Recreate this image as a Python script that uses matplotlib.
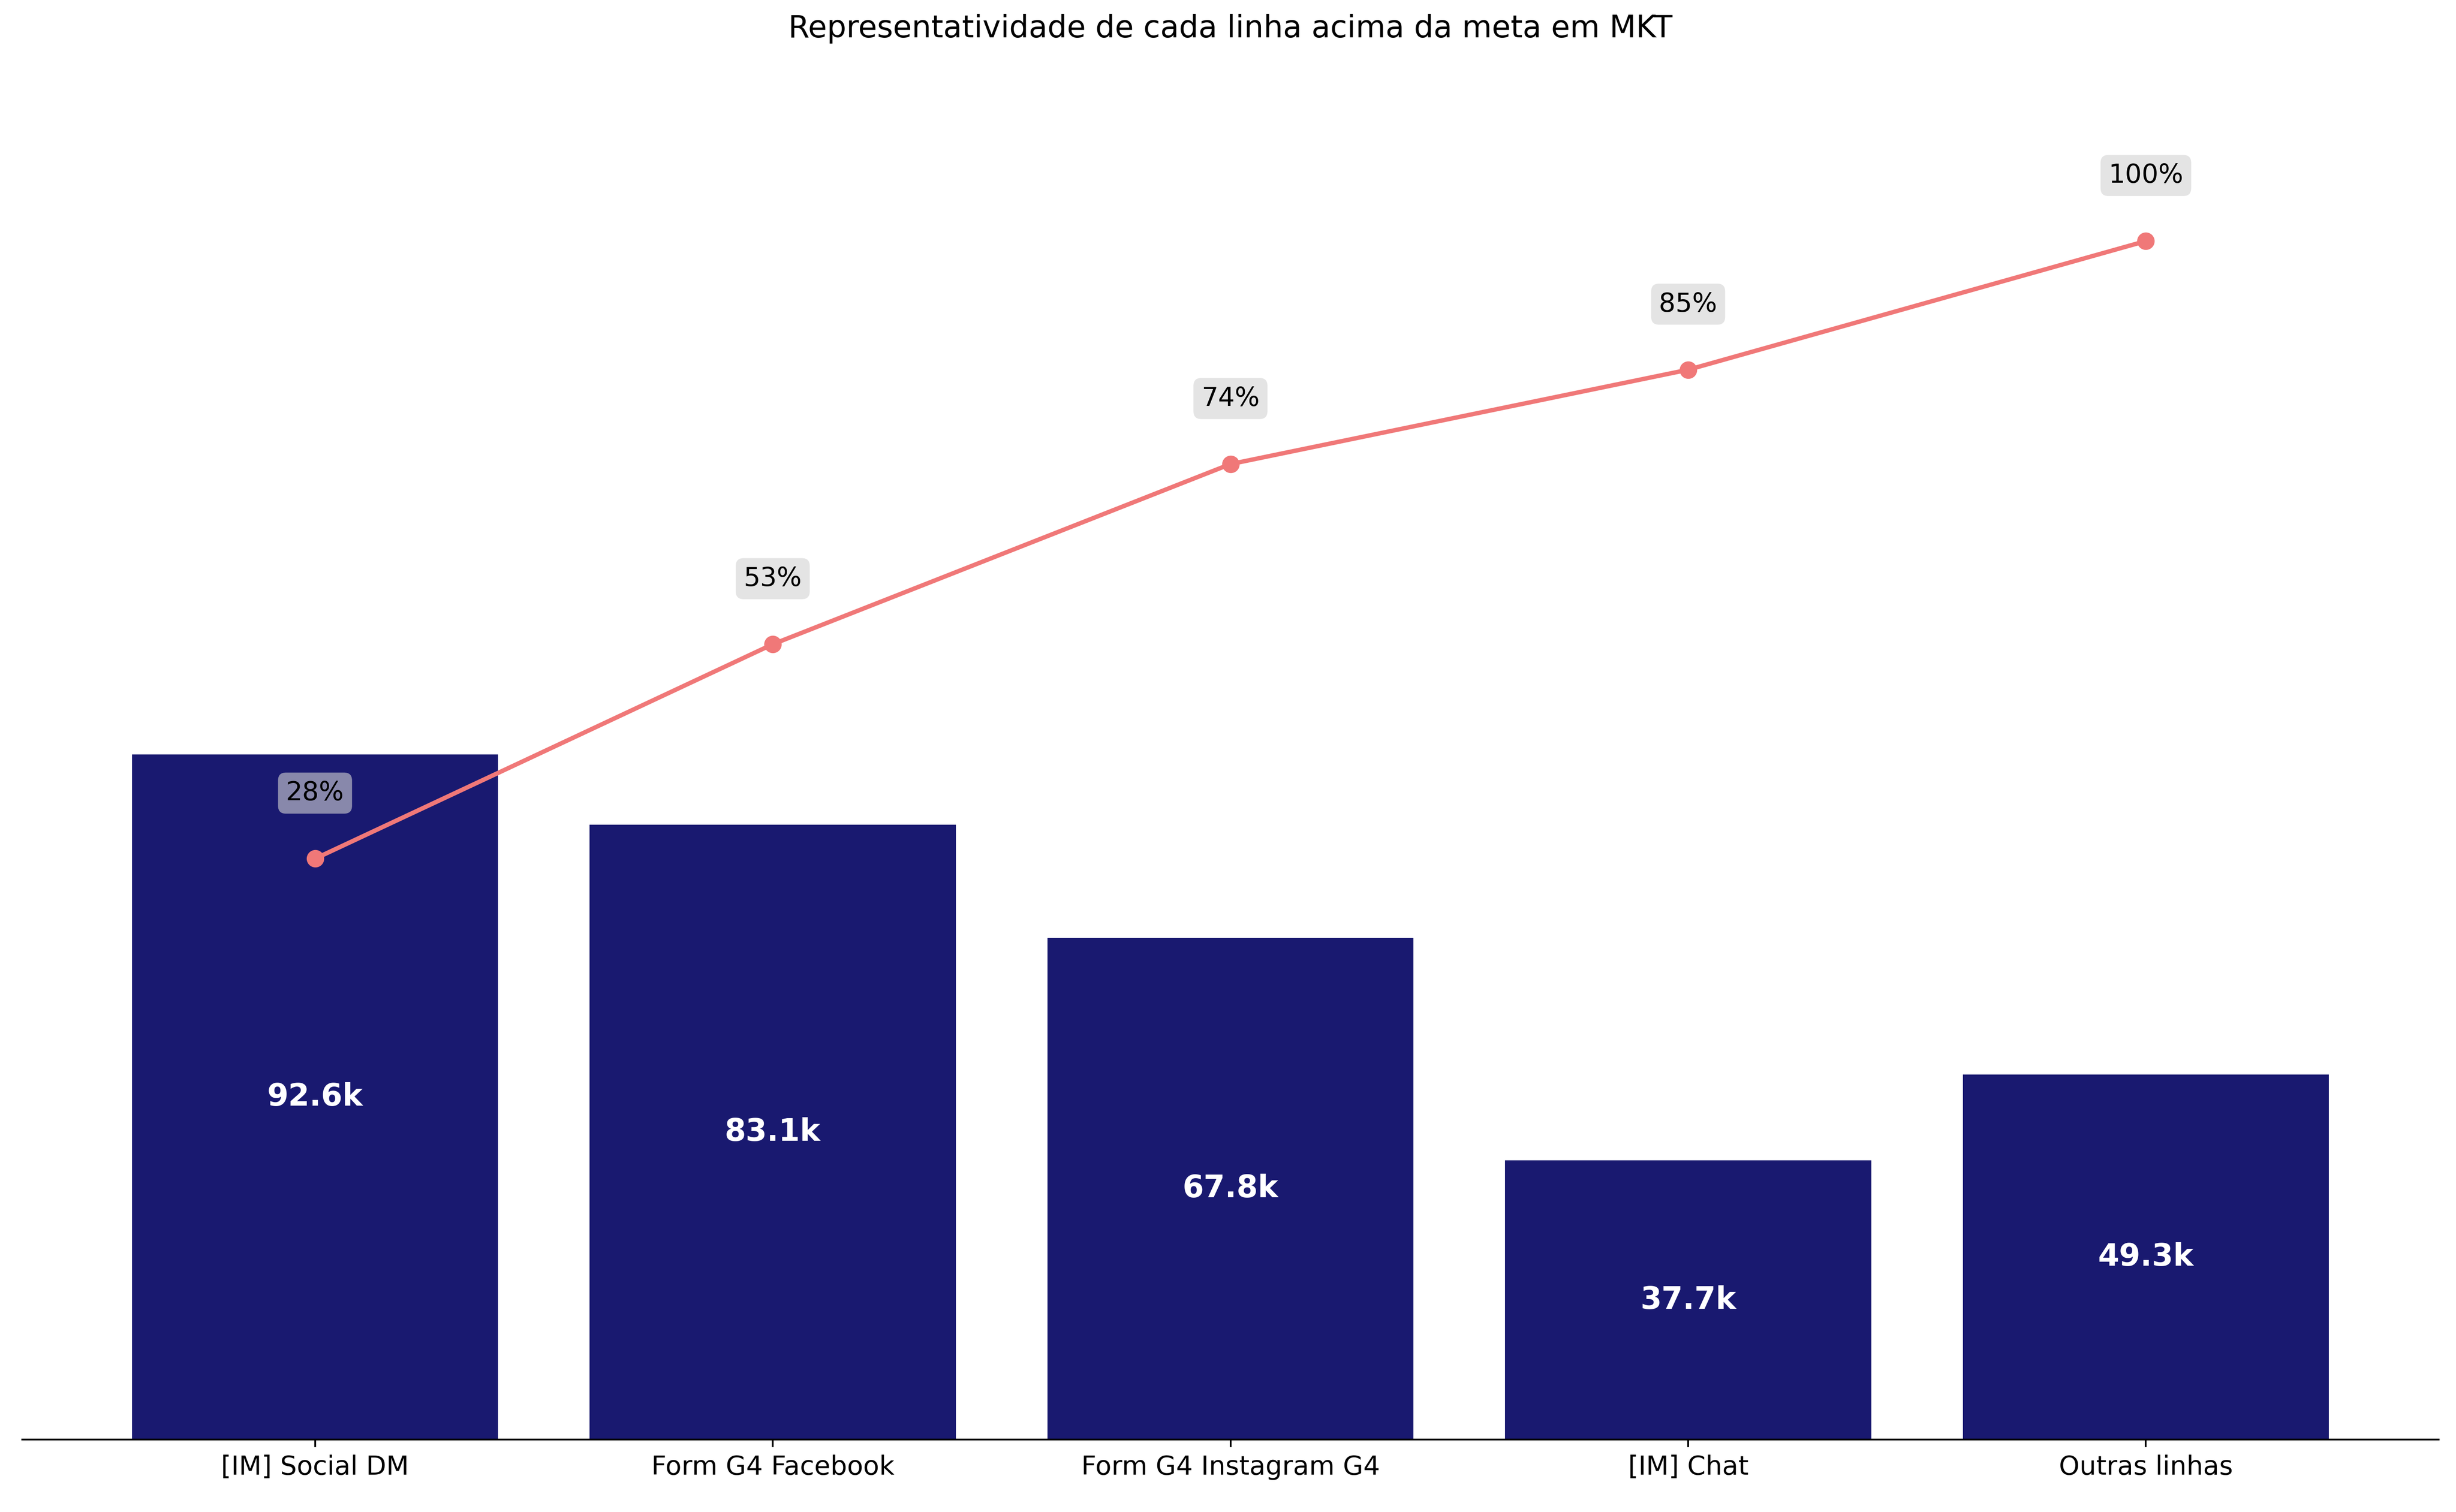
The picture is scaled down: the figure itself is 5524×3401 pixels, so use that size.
import matplotlib
matplotlib.use("Agg")
import matplotlib.pyplot as plt
import numpy as np

categories = ["[IM] Social DM", "Form G4 Facebook", "Form G4 Instagram G4", "[IM] Chat", "Outras linhas"]
values = [92.6, 83.1, 67.8, 37.7, 49.3]          # thousands
cum_pct = [28, 53, 74, 85, 100]

NAVY = "#191970"
CORAL = "#F07878"

fig, ax = plt.subplots(figsize=(5524/354, 3401/354), dpi=354)
fig.subplots_adjust(left=0.009, right=0.993, top=0.958, bottom=0.048)

x = np.arange(len(categories))
bars = ax.bar(x, values, width=0.8, color=NAVY)
for bar, v in zip(bars, values):
    ax.text(bar.get_x() + bar.get_width()/2, v/2, f"{v:.1f}k", ha="center", va="center",
            color="white", fontsize=14, fontweight="bold")
ax.set_ylim(0, 186)
ax.set_xlim(-0.64, 4.64)
ax.set_xticks(x)
ax.set_xticklabels(categories, fontsize=12)
ax.set_yticks([])
for s in ["top", "right", "left"]:
    ax.spines[s].set_visible(False)

ax2 = ax.twinx()
ax2.plot(x, cum_pct, color=CORAL, marker="o", linewidth=2, markersize=7)
for xi, p in zip(x, cum_pct):
    ax2.annotate(f"{p}%", (xi, p), xytext=(0, 30), textcoords="offset points",
                 ha="center", va="center", fontsize=12,
                 bbox=dict(boxstyle="round,pad=0.3", fc="lightgray", ec="none", alpha=0.6))
ax2.set_ylim(-39.7, 120.7)
ax2.set_yticks([])
for s in ["top", "right", "left", "bottom"]:
    ax2.spines[s].set_visible(False)

ax.set_title("Representatividade de cada linha acima da meta em MKT", fontsize=14, pad=12)
fig.savefig("out.png", dpi=354)
